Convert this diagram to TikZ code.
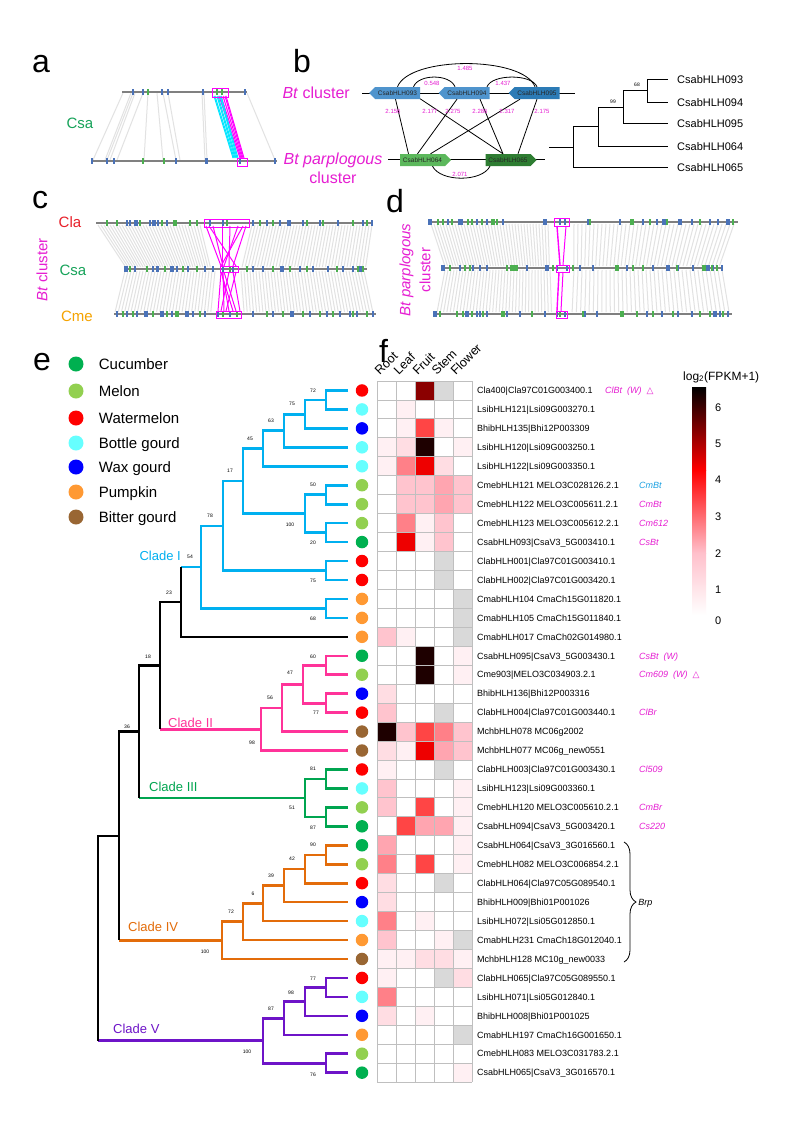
\documentclass[tikz,border=0pt]{standalone}
\usepackage{fontspec}
\setmainfont{Liberation Sans}
\newfontfamily\symf{DejaVu Sans}
\usepackage{tikz}
\usetikzlibrary{shapes,arrows}
\usetikzlibrary{positioning,decorations.pathreplacing}

\newcommand{\fsz}[1]{\fontsize{#1}{#1}\selectfont}
\newcommand{\gtick}[4]{\foreach \x in {#3} \fill[#1] (\x-#4,#2-3) rectangle (\x+#4,#2+3);}

\definecolor{cucumber}{HTML}{00B050}
\definecolor{melon}{HTML}{92D050}
\definecolor{wmelon}{HTML}{FF0000}
\definecolor{bottle}{HTML}{66FFFF}
\definecolor{wax}{HTML}{0000FF}
\definecolor{pumpkin}{HTML}{FF9933}
\definecolor{bitter}{HTML}{996633}
\definecolor{btmag}{HTML}{E61ED2}
\definecolor{hotmag}{HTML}{FF00FF}
\definecolor{hotcyan}{HTML}{00E5FF}
\definecolor{clacol}{HTML}{E8202A}
\definecolor{csacol}{HTML}{17A35A}
\definecolor{cmecol}{HTML}{F5A300}
\definecolor{chromgray}{HTML}{808080}
\definecolor{syngray}{HTML}{E2E2E2}
\definecolor{tickblue}{HTML}{4A72B8}
\definecolor{tickgreen}{HTML}{4CAF50}
\definecolor{gbA}{HTML}{4F94CD}
\definecolor{gbB}{HTML}{2C7BB6}
\definecolor{ggA}{HTML}{5CB85C}
\definecolor{ggB}{HTML}{2E7D32}
\definecolor{cladeI}{HTML}{00B0F0}
\definecolor{cladeII}{HTML}{FF3399}
\definecolor{cladeIII}{HTML}{00A550}
\definecolor{cladeIV}{HTML}{E36C0A}
\definecolor{cladeV}{HTML}{6E14C8}
\definecolor{cmblue}{HTML}{1BA1E2}
\definecolor{cellgray}{HTML}{BFBFBF}
\definecolor{barpink}{HTML}{FFC0CB}
\definecolor{h0}{HTML}{FFFFFF}
\definecolor{h1}{HTML}{FFF0F3}
\definecolor{h2}{HTML}{FFDDE3}
\definecolor{h3}{HTML}{FFC4CE}
\definecolor{h4}{HTML}{FFA5B0}
\definecolor{h5}{HTML}{FF8088}
\definecolor{h6}{HTML}{FF4545}
\definecolor{h7}{HTML}{EE0000}
\definecolor{h8}{HTML}{8B0000}
\definecolor{h9}{HTML}{1E0000}
\definecolor{hn}{HTML}{D9D9D9}

\tikzstyle{panel} = [anchor=base west, inner sep=0, font=\fsz{32}]
\tikzstyle{chrom} = [draw=chromgray, line width=2.2pt]
\tikzstyle{syn} = [draw=syngray, line width=1pt]
\tikzstyle{btbox} = [draw=hotmag, line width=0.9pt]
\tikzstyle{btlink} = [draw=hotmag, line width=1pt]
\tikzstyle{spname} = [inner sep=0, font=\fsz{15}]
\tikzstyle{genebox} = [signal, minimum width=51pt, minimum height=12pt,
    inner sep=0, font=\fsz{6.5}, text=black!85]
\tikzstyle{pairlab} = [inner sep=0, text=btmag, font=\fsz{6}]
\tikzstyle{tiplab} = [anchor=west, inner sep=0, font=\fsz{11}, text height=8pt, text depth=0pt]
\tikzstyle{legdot} = [circle, minimum size=15pt, inner sep=0]
\tikzstyle{leglab} = [inner sep=0, font=\fsz{15}, text height=10.7pt, text depth=0pt]
\tikzstyle{spdot} = [circle, minimum size=12.5pt, inner sep=0]
\tikzstyle{glabel} = [anchor=west, inner sep=0, font=\fsz{9}, text height=6.5pt, text depth=0pt]
\tikzstyle{note} = [anchor=west, inner sep=0, text=btmag, font=\fsz{9}\itshape, text height=6.5pt, text depth=0pt]
\tikzstyle{boot} = [inner sep=0, font=\fsz{5}]
\tikzstyle{branch} = [line width=2.6pt]
\tikzstyle{clade} = [inner sep=0, font=\fsz{13}, text height=9.3pt, text depth=0pt]
\tikzstyle{cell} = [draw=cellgray, line width=0.9pt]
\tikzstyle{colhead} = [rotate=45, anchor=south west, inner sep=0, font=\fsz{12.5}]
\tikzstyle{barnum} = [anchor=west, inner sep=0, font=\fsz{11}, text height=8pt, text depth=0pt]

\begin{document}
\begin{tikzpicture}[x=1pt,y=-1pt]
  \useasboundingbox (0,0) rectangle (794,1122);
  \fill[white] (0,0) rectangle (794,1122);

  % Panel a
  \node[panel] (pa) at (32,72) {a};
  \node[spname, text=csacol] (asa) at (80,123) {Csa};
  \foreach \t/\bx in {123/93,131/105,133/107,135/110,143/117,148/144,157/163,163/176,168/180,202/205,204/207,247/275}
    \draw[syn] (\t,93) -- (\bx,160);
  \foreach \t/\bx in {219/240,221/241,223/242,225/243,226/244}
    \draw[btlink] (\t,96) -- (\bx,158);
  \foreach \t/\bx in {214/233,215/234,217/235,218/236,220/237,221/238}
    \draw[hotcyan, line width=1pt] (\t,96) -- (\bx,158);
  \draw[chrom] (122,92) -- (247,92);
  \draw[chrom] (92,161) -- (277,161);
  \gtick{tickblue}{92}{133,143,162,168,203,245}{0.7}
  \gtick{tickgreen}{92}{148,217,222}{0.7}
  \gtick{tickblue}{161}{92,107,114,176,240,275}{0.7}
  \gtick{tickblue}{161}{206}{1.5}
  \gtick{tickgreen}{161}{143,164}{0.7}
  \draw[btbox] (212,88) rectangle (228,97);
  \draw[btbox] (237,158) rectangle (247,166);

  % Panel b
  \node[panel] (pb) at (293,72) {b};
  \node[spname, anchor=east, text=btmag, font=\fsz{16}] (bbt) at (350,93) {\textit{Bt} cluster};
  \node[spname, align=center, text=btmag, font=\fontsize{16}{19}\selectfont] (bbp) at (333,168) {\textit{Bt parplogous}\\cluster};
  \draw[line width=0.8pt] (362,93) -- (575,93);
  \draw[line width=0.8pt] (388,159) -- (545,159);
  \node[genebox, signal to=west, fill=gbA] (b93) at (397.5,93) {CsabHLH093};
  \node[genebox, signal to=west, fill=gbA] (b94) at (467,93) {CsabHLH094};
  \node[genebox, signal to=west, fill=gbB] (b95) at (537,93) {CsabHLH095};
  \node[genebox, signal to=east, fill=ggA] (b64) at (422.5,160) {CsabHLH064};
  \node[genebox, signal to=east, fill=ggB] (b65) at (508,160) {CsabHLH065};
  % Draw edges
  \draw[line width=0.8pt] ([xshift=16pt]b93.north) .. controls +(5,-13) and +(-5,-13) .. ([xshift=-12pt]b94.north);
  \draw[line width=0.8pt] ([xshift=20pt]b94.north) .. controls +(5,-13) and +(-5,-13) .. (b95.north);
  \draw[line width=0.8pt] (b93.north) .. controls +(12,-31) and +(-12,-31) .. ([xshift=-2pt]b95.north);
  \draw[line width=0.8pt] ([xshift=10pt]b64.south) .. controls +(8,16) and +(-8,16) .. ([xshift=-18pt]b65.south);
  \draw[line width=0.8pt] ([xshift=-2pt]b93.south) -- ([xshift=-14pt]b64.north);
  \draw[line width=0.8pt] (b93.south east) -- ([xshift=-5pt]b65.north);
  \draw[line width=0.8pt] ([xshift=-10pt]b94.south) -- ([xshift=-5pt]b64.north);
  \draw[line width=0.8pt] ([xshift=13pt]b94.south) -- ([xshift=-5pt]b65.north);
  \draw[line width=0.8pt] ([xshift=-17pt]b95.south) -- ([xshift=8pt]b64.north);
  \draw[line width=0.8pt] (b95.south) -- ([xshift=10pt]b65.north);
  \node[pairlab] (k1) at (432,83) {0.548};
  \node[pairlab] (k2) at (503,83) {1.437};
  \node[pairlab] (k3) at (465,68) {1.485};
  \node[pairlab] (k4) at (460,174) {2.071};
  \foreach \x/\t [count=\k] in {393/2.156,430/2.177,453/2.275,480/2.286,507/2.317,542/2.175}
    \node[pairlab] (q\k) at (\x,111) {\t};
  % tree of the five genes
  \draw[line width=0.9pt] (549,147) -- (573,147);
  \draw[line width=0.9pt] (598,126) -| (573,167) -- (668,167);
  \draw[line width=0.9pt] (623,107) -| (598,146) -- (668,146);
  \draw[line width=0.9pt] (647,90) -| (623,123) -- (668,123);
  \draw[line width=0.9pt] (668,79) -| (647,102) -- (668,102);
  \node[boot] (bb1) at (637,85) {68};
  \node[boot] (bb2) at (613,102) {99};
  \foreach \y/\t in {79/093,102/094,123/095,146/064,167/065}
    \node[tiplab] (tl\t) at (677,\y) {CsabHLH\t};

  % Panel c
  \node[panel] (pc) at (32,208) {c};
  \node[spname, text=clacol] (cla) at (70,222) {Cla};
  \node[spname, text=csacol] (csa) at (73,270) {Csa};
  \node[spname, text=cmecol] (cme) at (77,316) {Cme};
  \node[spname, rotate=90, text=btmag] (cbt) at (42,270) {\textit{Bt} cluster};
  \foreach \a in {98,101,...,200} {\pgfmathsetmacro{\bx}{124+(\a-96)*0.83} \draw[syn] (\a,225) -- (\bx,267);}
  \foreach \a in {252,255,...,372} {\pgfmathsetmacro{\bx}{240+(\a-250)*1.03} \draw[syn] (\a,225) -- (\bx,267);}
  \foreach \s in {125,128,...,216} {\pgfmathsetmacro{\bx}{114+(\s-124)*1.064} \draw[syn] (\s,271) -- (\bx,312);}
  \foreach \s in {241,244,...,366} {\pgfmathsetmacro{\bx}{243+(\s-240)*1.047} \draw[syn] (\s,271) -- (\bx,312);}
  \foreach \a/\s in {206/221,213/223,222/222,230/229,238/224,246/233,209/236,243/221}
    \draw[btlink] (\a,226) -- (\s,266);
  \foreach \s/\m in {221/218,223/224,222/229,229/221,224/236,233/240,236/226,221/233}
    \draw[btlink] (\s,272) -- (\m,311);
  \draw[chrom] (96,223) -- (373,223);
  \draw[chrom] (124,269) -- (367,269);
  \draw[chrom] (114,314) -- (376,314);
  \gtick{tickblue}{223}{127,130,135,137,150,153,155,158,167,210,223,253,267,280,303,320,338,363,372}{0.7}
  \gtick{tickblue}{223}{289}{1.6}
  \gtick{tickgreen}{223}{107,117,140,162,190,197,227,260,273,307,323,353,367}{0.7}
  \gtick{tickgreen}{223}{175}{1.6}
  \gtick{tickblue}{269}{135,153,157,158,177,188,205,213,223,233,253,263,300,313,328,343,353}{0.7}
  \gtick{tickblue}{269}{126,172,282,360}{1.6}
  \gtick{tickgreen}{269}{130,147,165,183,197,230,247,273,290,307,337,358,363}{0.7}
  \gtick{tickblue}{314}{117,127,137,145,147,172,193,205,218,230,237,253,273,310,327,340,350,357,373}{0.7}
  \gtick{tickblue}{314}{162,187,292}{1.6}
  \gtick{tickgreen}{314}{123,133,153,167,200,223,237,267,283,303,320,333,353,367}{0.7}
  \gtick{tickgreen}{314}{177}{1.6}
  \draw[btbox] (204,219) rectangle (249,227);
  \draw[btbox] (220,266) rectangle (238,272);
  \draw[btbox] (216,311) rectangle (241,318);

  % Panel d
  \node[panel] (pd) at (386,212) {d};
  \node[spname, rotate=90, align=center, text=btmag, font=\fontsize{15}{20}\selectfont] (dbt) at (415,270) {\textit{Bt parplogous}\\cluster};
  \foreach \a in {431,434,...,550} {\pgfmathsetmacro{\bx}{444+(\a-430)*0.893} \draw[syn] (\a,224) -- (\bx,266);}
  \foreach \a in {574,578,...,736} {\pgfmathsetmacro{\bx}{572+(\a-572)*0.91} \draw[syn] (\a,224) -- (\bx,266);}
  \foreach \s in {445,448,...,552} {\pgfmathsetmacro{\bx}{436+(\s-444)*1.09} \draw[syn] (\s,270) -- (\bx,312);}
  \foreach \s in {574,578,...,722} {\pgfmathsetmacro{\bx}{570+(\s-572)*1.06} \draw[syn] (\s,270) -- (\bx,312);}
  \draw[btlink, line width=1.4pt] (557,226) -- (560,265);
  \draw[btlink] (566,226) -- (563,265);
  \draw[btlink, line width=1.4pt] (559,272) -- (557,311);
  \draw[btlink] (563,272) -- (561,311);
  \draw[chrom] (428,222) -- (738,222);
  \draw[chrom] (442,268) -- (723,268);
  \draw[chrom] (433,314) -- (732,314);
  \gtick{tickblue}{222}{448,462,477,487,503,560,565,588,620,643,657,663,665,692,710,718,733}{0.7}
  \gtick{tickblue}{222}{430,460,545,680,728}{1.6}
  \gtick{tickgreen}{222}{438,443,452,468,472,482,497,590,650,667,700,733}{0.7}
  \gtick{tickgreen}{222}{493,632}{1.6}
  \gtick{tickblue}{268}{460,473,480,487,527,557,567,580,593,627,653,678,693,713,722}{0.7}
  \gtick{tickblue}{268}{443,547,668,708}{1.6}
  \gtick{tickgreen}{268}{450,465,470,507,553,573,633,643,677,703,705,712,717}{0.7}
  \gtick{tickgreen}{268}{512,516,617}{1.6}
  \gtick{tickblue}{314}{477,480,487,507,520,545,557,565,585,597,623,647,662,678,692,720,728}{0.7}
  \gtick{tickblue}{314}{435,467,715}{1.6}
  \gtick{tickgreen}{314}{440,457,463,472,483,532,560,583,637,653,673,700,710,723}{0.7}
  \gtick{tickgreen}{314}{503,622}{1.6}
  \draw[btbox] (554,218) rectangle (569,226);
  \draw[btbox] (556,265) rectangle (569,272);
  \draw[btbox] (556,311) rectangle (567,318);

  % Panel e: legend
  \node[panel] (pe) at (33,370) {e};
  \foreach \i/\sp/\nm/\y in {1/cucumber/Cucumber/364, 2/melon/Melon/391, 3/wmelon/Watermelon/418,
      4/bottle/Bottle gourd/443, 5/wax/Wax gourd/467, 6/pumpkin/Pumpkin/492, 7/bitter/Bitter gourd/517} {
    \node[legdot, fill=\sp] (l\i) at (76,\y) {};
    \node[leglab, right=15pt of l\i] (lt\i) {\nm};
  }

  % Panel e: tree
  \begin{scope}[branch, cladeI]
    \draw (348,390.5) -| (326,409.4) -- (348,409.4);
    \draw (326,400.0) -| (305,428.4) -- (348,428.4);
    \draw (305,414.2) -| (284,447.3) -- (348,447.3);
    \draw (284,430.7) -| (263,466.3) -- (348,466.3);
    \draw (348,485.2) -| (326,504.2) -- (348,504.2);
    \draw (348,523.1) -| (326,542.1) -- (348,542.1);
    \draw (326,494.7) -| (305,532.6) -- (326,532.6);
    \draw (263,448.5) -| (243,513.6) -- (305,513.6);
    \draw (348,561.0) -| (326,580.0) -- (348,580.0);
    \draw (243,481.1) -| (223,570.5) -- (326,570.5);
    \draw (348,598.9) -| (326,617.8) -- (348,617.8);
    \draw (223,525.8) -| (201,608.4) -- (326,608.4);
    \draw (201,567.1) -- (181,567.1);
  \end{scope}
  \begin{scope}[branch, cladeII]
    \draw (348,655.8) -| (326,674.7) -- (348,674.7);
    \draw (348,693.7) -| (326,712.6) -- (348,712.6);
    \draw (326,665.3) -| (303,703.2) -- (326,703.2);
    \draw (303,684.2) -| (282,731.6) -- (348,731.6);
    \draw (282,707.9) -| (261,750.5) -- (348,750.5);
    \draw (261,729.2) -- (160,729.2);
  \end{scope}
  \begin{scope}[branch, cladeIII]
    \draw (348,769.5) -| (326,788.4) -- (348,788.4);
    \draw (348,807.4) -| (326,826.3) -- (348,826.3);
    \draw (326,778.9) -| (305,816.8) -- (326,816.8);
    \draw (305,797.9) -- (139,797.9);
  \end{scope}
  \begin{scope}[branch, cladeIV]
    \draw (348,845.3) -| (326,864.2) -- (348,864.2);
    \draw (326,854.8) -| (305,883.2) -- (348,883.2);
    \draw (305,869.0) -| (284,902.1) -- (348,902.1);
    \draw (284,885.5) -| (263,921.1) -- (348,921.1);
    \draw (263,903.3) -| (243,940.0) -- (348,940.0);
    \draw (243,921.7) -| (222,959.0) -- (348,959.0);
    \draw (222,940.3) -- (119,940.3);
  \end{scope}
  \begin{scope}[branch, cladeV]
    \draw (348,977.9) -| (326,996.9) -- (348,996.9);
    \draw (326,987.4) -| (305,1015.8) -- (348,1015.8);
    \draw (305,1001.6) -| (284,1034.8) -- (348,1034.8);
    \draw (348,1053.7) -| (326,1072.7) -- (348,1072.7);
    \draw (284,1018.2) -| (263,1063.2) -- (326,1063.2);
    \draw (263,1040.7) -- (98,1040.7);
  \end{scope}
  \begin{scope}[branch, black]
    \draw (181,567.1) -- (181,636.8) -- (348,636.8);
    \draw (181,602.0) -| (160,729.2);
    \draw (160,665.6) -| (139,797.9);
    \draw (139,731.7) -| (119,940.3);
    \draw (119,836.0) -| (98,1040.7);
  \end{scope}
  \node[clade, anchor=east, text=cladeI] (cl1) at (181,556) {Clade I};
  \node[clade, anchor=west, text=cladeII] (cl2) at (168,723) {Clade II};
  \node[clade, anchor=west, text=cladeIII] (cl3) at (149,787) {Clade III};
  \node[clade, anchor=west, text=cladeIV] (cl4) at (128,927) {Clade IV};
  \node[clade, anchor=west, text=cladeV] (cl5) at (113,1029) {Clade V};
  \foreach \x/\y/\t [count=\k] in {313/391/72, 292/404/75, 271/421/63, 250/439/45, 313/485/50,
      290/525/100, 313/543/20, 230/471/17, 313/581/75, 210/516/78, 313/619/68, 190/557/54,
      169/593/23, 148/657/18, 313/657/60, 290/673/47, 316/713/77, 270/698/56, 252/743/98,
      127/727/36, 313/769/81, 292/808/51, 313/828/87, 313/845/90, 292/859/42, 271/876/39,
      253/894/6, 231/912/72, 205/952/100, 313/979/77, 291/993/98, 271/1009/87, 247/1052/100,
      313/1075/76}
    \node[boot] (bs\k) at (\x,\y) {\t};

  % Panel f: heatmap
  \node[panel] (pf) at (379,362) {f};
  \foreach \c/\t in {1/Root,2/Leaf,3/Fruit,4/Stem,5/Flower}
    \node[colhead] (hd\c) at ({380+19*(\c-1)},376) {\t};
  \foreach \r/\va/\vb/\vc/\vd/\ve in {1/0/0/8/n/0, 2/0/1/0/0/0, 3/0/1/6/1/0, 4/1/2/9/0/1, 5/1/5/7/2/0,
      6/0/3/3/4/3, 7/0/3/3/4/3, 8/0/5/1/3/0, 9/0/7/1/3/0, 10/0/0/0/n/0, 11/0/0/0/n/0,
      12/0/0/0/0/n, 13/0/0/0/0/n, 14/3/1/0/0/n, 15/0/0/9/0/1, 16/0/0/9/0/1, 17/2/0/0/0/0,
      18/3/0/0/n/0, 19/9/3/6/5/3, 20/2/1/7/4/3, 21/1/0/0/n/0, 22/3/0/0/0/1, 23/3/0/6/0/1,
      24/0/6/4/4/1, 25/4/0/0/0/1, 26/5/0/6/0/1, 27/2/0/0/n/0, 28/2/0/0/0/0, 29/5/0/1/0/0,
      30/3/0/0/1/n, 31/1/1/2/2/1, 32/1/0/0/n/2, 33/5/0/0/0/0, 34/2/0/1/0/0, 35/0/0/0/0/n,
      36/0/0/0/0/0, 37/0/0/0/0/1} {
    \foreach \c/\v in {1/\va,2/\vb,3/\vc,4/\vd,5/\ve}
      \fill[h\v] ({377+19*(\c-1)},{381+18.95*(\r-1)}) rectangle ++(19,18.95);
  }
  \foreach \c in {0,...,5}
    \draw[cell] ({377+19*\c},381) -- ({377+19*\c},1082.15);
  \foreach \r in {0,...,37}
    \draw[cell] (377,{381+18.95*\r}) -- (472,{381+18.95*\r});
  % Place nodes
  \foreach \i/\sp/\lab in {1/wmelon/Cla400|Cla97C01G003400.1, 2/bottle/LsibHLH121|Lsi09G003270.1,
      3/wax/BhibHLH135|Bhi12P003309, 4/bottle/LsibHLH120|Lsi09G003250.1,
      5/bottle/LsibHLH122|Lsi09G003350.1, 6/melon/CmebHLH121 MELO3C028126.2.1,
      7/melon/CmebHLH122 MELO3C005611.2.1, 8/melon/CmebHLH123 MELO3C005612.2.1,
      9/cucumber/CsabHLH093|CsaV3\_5G003410.1, 10/wmelon/ClabHLH001|Cla97C01G003410.1,
      11/wmelon/ClabHLH002|Cla97C01G003420.1, 12/pumpkin/CmabHLH104 CmaCh15G011820.1,
      13/pumpkin/CmabHLH105 CmaCh15G011840.1, 14/pumpkin/CmabHLH017 CmaCh02G014980.1,
      15/cucumber/CsabHLH095|CsaV3\_5G003430.1, 16/melon/Cme903|MELO3C034903.2.1,
      17/wax/BhibHLH136|Bhi12P003316, 18/wmelon/ClabHLH004|Cla97C01G003440.1,
      19/bitter/MchbHLH078 MC06g2002, 20/bitter/MchbHLH077 MC06g\_new0551,
      21/wmelon/ClabHLH003|Cla97C01G003430.1, 22/bottle/LsibHLH123|Lsi09G003360.1,
      23/melon/CmebHLH120 MELO3C005610.2.1, 24/cucumber/CsabHLH094|CsaV3\_5G003420.1,
      25/cucumber/CsabHLH064|CsaV3\_3G016560.1, 26/melon/CmebHLH082 MELO3C006854.2.1,
      27/wmelon/ClabHLH064|Cla97C05G089540.1, 28/wax/BhibHLH009|Bhi01P001026,
      29/bottle/LsibHLH072|Lsi05G012850.1, 30/pumpkin/CmabHLH231 CmaCh18G012040.1,
      31/bitter/MchbHLH128 MC10g\_new0033, 32/wmelon/ClabHLH065|Cla97C05G089550.1,
      33/bottle/LsibHLH071|Lsi05G012840.1, 34/wax/BhibHLH008|Bhi01P001025,
      35/pumpkin/CmabHLH197 CmaCh16G001650.1, 36/melon/CmebHLH083 MELO3C031783.2.1,
      37/cucumber/CsabHLH065|CsaV3\_3G016570.1} {
    \node[spdot, fill=\sp] (d\i) at (362,{381+18.95*(\i-0.5)}) {};
    \node[glabel] (g\i) at (477,{381+18.95*(\i-0.5)}) {\lab};
  }
  \node[note, right=12pt of g1] (n1) {ClBt~~(W)~~{\upshape\symf △}};
  \node[note, text=cmblue] (n6) at (639,{381+18.95*5.5}) {CmBt};
  \foreach \i/\txt in {7/CmBt, 8/Cm612, 9/CsBt, 15/CsBt~~(W), 16/Cm609~~(W)~~{\upshape\symf △},
      18/ClBr, 21/Cl509, 23/CmBr, 24/Cs220}
    \node[note] (n\i) at (639,{381+18.95*(\i-0.5)}) {\txt};
  \draw[line width=0.8pt, decorate, decoration={brace, amplitude=12pt}] (624,842) -- (624,962)
    node[note, text=black, midway, right=14pt] (brp) {Brp};

  % colour key
  \node[anchor=west, inner sep=0, font=\fsz{12}] (keyt) at (683,377) {log\textsubscript{2}(FPKM+1)};
  \shade[top color=black, bottom color=red] (692,387) rectangle (706,470);
  \shade[top color=red, bottom color=barpink] (692,470) rectangle (706,553);
  \shade[top color=barpink, bottom color=white] (692,553) rectangle (706,615);
  \foreach \v/\y in {6/407,5/443,4/479,3/516,2/553,1/589,0/620}
    \node[barnum] (bn\v) at (715,\y) {\v};
\end{tikzpicture}
\end{document}
